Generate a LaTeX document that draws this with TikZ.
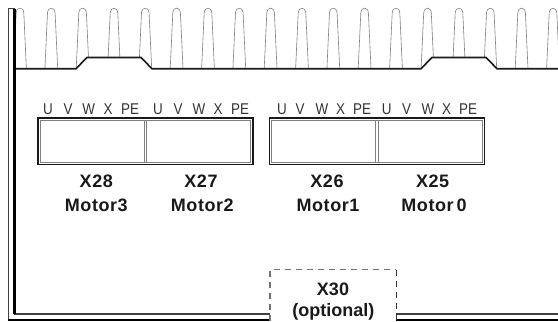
\documentclass[tikz,border=0pt]{standalone}
\usepackage{fontspec}
\setmainfont{Liberation Sans}
\newfontfamily\pinfont[FakeStretch=0.86]{Liberation Sans}
\newfontfamily\titlefont[LetterSpace=3,BoldFont={Liberation Sans Bold}]{Liberation Sans}
\tikzset{
  pinlabel/.style={font=\pinfont\fontsize{15.6bp}{16bp}\selectfont, text=black!80, anchor=base, inner sep=0pt},
  titletext/.style={font=\titlefont\fontsize{18bp}{20bp}\selectfont\bfseries, text=black!90, anchor=base, inner sep=0pt},
  plaintitle/.style={font=\fontsize{18bp}{20bp}\selectfont\bfseries, text=black!90, anchor=base, inner sep=0pt},
  wall/.style={line width=1.6bp, black!90},
  heavywall/.style={line width=2.2bp, black},
  thinwall/.style={line width=1.1bp, black!75},
  finline/.style={line width=0.6bp, black!50},
  outerbox/.style={line width=1.7bp, black!90},
  innerbox/.style={line width=0.9bp, black!50},
  dashgray/.style={line width=1.2bp, black!55, dash pattern=on 6bp off 5bp},
  dashdark/.style={line width=0.9bp, black!80, dash pattern=on 6bp off 5bp}
}
\begin{document}
\begin{tikzpicture}[x=1bp,y=-1bp]
\useasboundingbox (0,0) rectangle (558,321);
\clip (0,0) rectangle (558,321);
% heat-sink fins
\begin{scope}
\clip (14,0) -- (558,0) -- (558,68.7) -- (497,68.7) -- (486,57.5) -- (432,57.5) -- (421,68.7)
  -- (152,68.7) -- (141,57.5) -- (87,57.5) -- (76,68.7) -- (14,68.7) -- cycle;
\foreach \c in {20,51.3,82.6,114,145.3,176.6,208,239.3,270.6,302,333.3,364.6,396,427.5,459,490.3,521.6,553}{
  \draw[finline] (\c-6.4,68.7) -- (\c-3.8,13) .. controls (\c-3.4,6.5) and (\c+3.4,6.5) .. (\c+3.8,13) -- (\c+6.4,68.7);
}
\end{scope}
% walls
\draw[wall] (14.3,68.7) -- (76,68.7) -- (87,57.5) -- (141,57.5) -- (152,68.7) -- (421,68.7) -- (432,57.5) -- (486,57.5) -- (497,68.7) -- (558,68.7);
\draw[thinwall] (270,314) -- (14.5,314) -- (14.5,8.5) -- (8.4,8.5) -- (8.4,319.7);
\draw[heavywall] (14.5,8.5) -- (14.5,314);
\draw[heavywall] (8.4,319.8) -- (270,319.8);
\draw[thinwall] (396,314) -- (558,314);
\draw[heavywall] (396,319.9) -- (558,319.9);
% optional connector
\draw[dashgray] (270,321) -- (270,269.5) -- (396,269.5);
\draw[dashdark] (396,269.5) -- (396,321);
% connector blocks
\draw[innerbox] (40.5,120.7) rectangle (250.6,162.7);
\draw[innerbox] (144.4,120.7) -- (144.4,162.7);
\draw[innerbox] (146.4,120.7) -- (146.4,162.7);
\draw[outerbox] (37.8,118.2) rectangle (253.2,164.6);
\draw[innerbox] (271.8,120.7) rectangle (482,162.7);
\draw[innerbox] (375.6,120.7) -- (375.6,162.7);
\draw[innerbox] (378.3,120.7) -- (378.3,162.7);
\draw[outerbox] (269.4,118.2) rectangle (484.5,164.6);
% pin labels
\node[pinlabel] (u3) at (48,114.3) {U};
\node[pinlabel] (v3) at (68,114.3) {V};
\node[pinlabel] (w3) at (88.7,114.3) {W};
\node[pinlabel] (x3) at (108,114.3) {X};
\node[pinlabel] (p3) at (130,114.3) {PE};
\node[pinlabel] (u2) at (158,114.3) {U};
\node[pinlabel] (v2) at (178,114.3) {V};
\node[pinlabel] (w2) at (199,114.3) {W};
\node[pinlabel] (x2) at (218,114.3) {X};
\node[pinlabel] (p2) at (240,114.3) {PE};
\node[pinlabel] (u1) at (282,114.3) {U};
\node[pinlabel] (v1) at (300,114.3) {V};
\node[pinlabel] (w1) at (322,114.3) {W};
\node[pinlabel] (x1) at (340.7,114.3) {X};
\node[pinlabel] (p1) at (362,114.3) {PE};
\node[pinlabel] (u0) at (386.7,114.3) {U};
\node[pinlabel] (v0) at (406.7,114.3) {V};
\node[pinlabel] (w0) at (428,114.3) {W};
\node[pinlabel] (x0) at (446.7,114.3) {X};
\node[pinlabel] (p0) at (468,114.3) {PE};
% titles
\node[titletext] (t28) at (96.3,187.7) {X28};
\node[titletext] (m3) at (96.3,211.7) {Motor3};
\node[titletext] (t27) at (201,187.7) {X27};
\node[titletext] (m2) at (202.3,211.7) {Motor2};
\node[titletext] (t26) at (327,187.7) {X26};
\node[titletext] (m1) at (328,211.7) {Motor1};
\node[titletext] (t25) at (432.7,187.7) {X25};
\node[titletext] (m0) at (434,211.7) {Motor\,0};
\node[plaintitle] (t30) at (333,295) {X30};
\node[plaintitle] (opt) at (333.3,316) {(optional)};
\end{tikzpicture}
\end{document}
